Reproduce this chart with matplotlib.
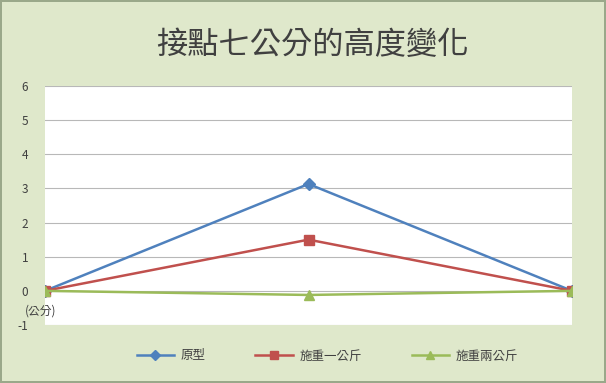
import matplotlib
matplotlib.use("Agg")
import matplotlib.pyplot as plt

plt.rcParams['font.family'] = ['Noto Sans CJK TC', 'DejaVu Sans']

categories = ['1', '2', '3']
original = [0, 3.13, 0]
one_kg = [0, 1.5, 0]
two_kg = [0, -0.12, 0]
labels = ['原型', '施重一公斤', '施重兩公斤']
yticks = [-1, 0, 1, 2, 3, 4, 5, 6]

fig = plt.figure(figsize=(6.06, 3.83), dpi=100)
fig.patch.set_facecolor('#dfe8cb')
fig.patch.set_edgecolor('#9aa88a')
fig.patch.set_linewidth(1.5)
ax = fig.add_axes([45 / 606, 1 - 325 / 383, (572 - 45) / 606, (325 - 86) / 383])
ax.set_facecolor('white')

x = range(len(categories))
ax.plot(x, original, color='#4f81bd', marker='D', markersize=6, lw=1.8, label=labels[0])
ax.plot(x, one_kg, color='#c0504d', marker='s', markersize=7, lw=1.8, label=labels[1])
ax.plot(x, two_kg, color='#9bbb59', marker='^', markersize=7, lw=1.8, label=labels[2])

ax.set_xlim(0, 2)
ax.set_ylim(-1, 6)
ax.set_yticks(yticks)
ax.set_yticklabels([str(v) for v in yticks], fontsize=8.5, color='#404040')
ax.set_xticks([])
ax.grid(axis='y', color='#b8b8b8', lw=0.8)
ax.set_axisbelow(True)
for s in ax.spines.values():
    s.set_visible(False)
ax.tick_params(axis='y', length=0, pad=12)

fig.text(0.515, 1 - 45 / 383, '接點七公分的高度變化', ha='center', va='center',
         fontsize=22.5, color='#404040')
fig.text(25 / 606, 1 - 311 / 383, '(公分)', ha='left', va='center', fontsize=8.5, color='#404040')

fig.legend(loc='center', bbox_to_anchor=(0.54, 1 - 356 / 383), ncol=3, frameon=False,
           fontsize=9, handlelength=3, handletextpad=0.5, columnspacing=4,
           markerscale=0.8, labelcolor='#404040')

fig.savefig('out.png', dpi=100, facecolor=fig.get_facecolor(), edgecolor=fig.get_edgecolor())
